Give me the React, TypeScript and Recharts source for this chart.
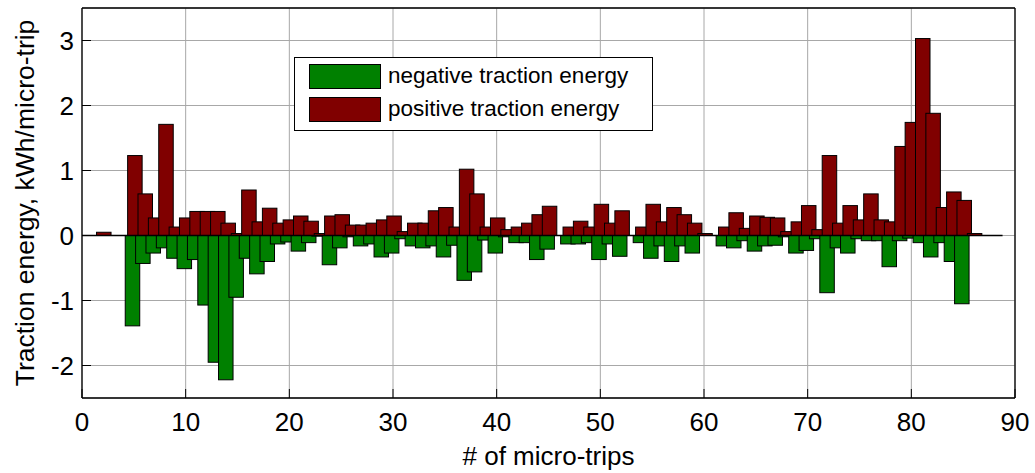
import React from 'react';
import {
  BarChart,
  Bar,
  XAxis,
  YAxis,
  CartesianGrid,
  ReferenceLine,
  Legend,
} from 'recharts';

// micro-trip index
const trips = [
  1, 2, 3, 4, 5, 6, 7, 8, 9, 10, 11, 12, 13, 14, 15, 16, 17, 18, 19, 20,
  21, 22, 23, 24, 25, 26, 27, 28, 29, 30, 31, 32, 33, 34, 35, 36, 37, 38, 39, 40,
  41, 42, 43, 44, 45, 46, 47, 48, 49, 50, 51, 52, 53, 54, 55, 56, 57, 58, 59, 60,
  61, 62, 63, 64, 65, 66, 67, 68, 69, 70, 71, 72, 73, 74, 75, 76, 77, 78, 79, 80,
  81, 82, 83, 84, 85, 86,
];

// kWh per micro-trip
const negativeEnergy = [
  0, 0, 0, 0, -1.39, -0.43, -0.27, -0.19, -0.35, -0.51,
  -0.37, -1.07, -1.95, -2.22, -0.95, -0.35, -0.59, -0.4, -0.13, -0.1,
  -0.24, -0.11, -0.01, -0.45, -0.19, -0.02, -0.16, -0.13, -0.33, -0.27,
  -0.05, -0.16, -0.19, -0.16, -0.33, -0.15, -0.69, -0.56, -0.07, -0.27,
  -0.02, -0.11, -0.11, -0.37, -0.21, 0, -0.13, -0.13, -0.11, -0.37,
  -0.13, -0.32, 0, -0.11, -0.35, -0.16, -0.4, -0.16, -0.27, 0,
  0, -0.16, -0.19, -0.08, -0.24, -0.16, -0.15, -0.02, -0.27, -0.23,
  -0.05, -0.88, -0.19, -0.27, -0.05, -0.08, -0.08, -0.48, -0.08, -0.04,
  -0.11, -0.33, -0.11, -0.4, -1.05, 0,
];

const positiveEnergy = [
  0, 0.05, 0, 0, 1.23, 0.64, 0.27, 1.71, 0.13, 0.27,
  0.37, 0.37, 0.37, 0.19, 0.03, 0.7, 0.21, 0.42, 0.19, 0.24,
  0.3, 0.22, 0.03, 0.3, 0.32, 0.16, 0.16, 0.19, 0.24, 0.3,
  0.06, 0.19, 0.19, 0.38, 0.43, 0.13, 1.02, 0.64, 0.13, 0.27,
  0.09, 0.13, 0.19, 0.32, 0.45, 0, 0.13, 0.22, 0.13, 0.48,
  0.19, 0.38, 0, 0.13, 0.48, 0.21, 0.43, 0.32, 0.19, 0.03,
  0, 0.13, 0.35, 0.11, 0.3, 0.28, 0.27, 0.06, 0.21, 0.46,
  0.09, 1.23, 0.19, 0.46, 0.24, 0.64, 0.24, 0.21, 1.37, 1.74,
  3.03, 1.88, 0.43, 0.67, 0.54, 0.03,
];

const xTicks = [0, 10, 20, 30, 40, 50, 60, 70, 80, 90];
const yTicks = [-2, -1, 0, 1, 2, 3];

const data = trips.map((t, i) => ({
  trip: t,
  neg: negativeEnergy[i],
  pos: positiveEnergy[i],
}));

const FONT = '"Liberation Sans", Arial, sans-serif';
const GREEN = '#008000';
const RED = '#800000';
const BAR_PX = 14.5; // MATLAB bars are wider than one step, so they overlap

// bar drawn around the library's band centre, nudged like the grouped MATLAB bars
const barShape = (dx: number, fill: string) => (props: any) => {
  const { x, y, width, height } = props;
  if (!height || Math.abs(height) < 0.01) return <g />;
  const cx = x + width / 2 + dx;
  const top = Math.min(y, y + height);
  return (
    <rect
      x={cx - BAR_PX / 2}
      y={top}
      width={BAR_PX}
      height={Math.abs(height)}
      fill={fill}
      stroke="#000"
      strokeWidth={1}
    />
  );
};

const LegendBox = (props: any) => {
  const items = props.payload || [];
  return (
    <div
      style={{
        width: 359,
        height: 74,
        boxSizing: 'border-box',
        border: '1.5px solid #000',
        background: '#fff',
        position: 'relative',
        fontFamily: FONT,
        fontSize: 22.5,
        color: '#000',
      }}
    >
      {items.map((it: any, i: number) => (
        <div
          key={it.value}
          style={{
            position: 'absolute',
            left: 14,
            top: 5.5 + i * 33,
            height: 25,
            display: 'flex',
            alignItems: 'center',
            whiteSpace: 'nowrap',
          }}
        >
          <span
            style={{
              display: 'inline-block',
              width: 72,
              height: 25,
              boxSizing: 'border-box',
              background: it.color,
              border: '1px solid #000',
            }}
          />
          <span style={{ marginLeft: 7 }}>{it.value}</span>
        </div>
      ))}
    </div>
  );
};

export default function App() {
  return (
    <div style={{ width: 1035, height: 473, background: '#fff' }}>
      <style>{'body{margin:0}'}</style>
      <BarChart
        width={1035}
        height={473}
        data={data}
        stackOffset="sign"
        margin={{ top: 7, right: 19, left: 0, bottom: 0 }}
      >
        <CartesianGrid stroke="#a8a8a8" strokeWidth={1} />
        <XAxis
          dataKey="trip"
          type="number"
          domain={[0, 90]}
          ticks={xTicks}
          height={75}
          tickSize={-9}
          tickMargin={24}
          tick={{ fontSize: 26, fill: '#000', fontFamily: FONT }}
          stroke="#000"
          axisLine={{ stroke: '#000', strokeWidth: 1.3 }}
          tickLine={{ stroke: '#000' }}
          label={{
            value: '# of micro-trips',
            position: 'insideBottom',
            offset: 8,
            fontSize: 26,
            fill: '#000',
            fontFamily: FONT,
          }}
        />
        <XAxis
          xAxisId="top"
          dataKey="trip"
          type="number"
          orientation="top"
          domain={[0, 90]}
          ticks={xTicks}
          height={1}
          tickSize={-9}
          tick={false}
          axisLine={{ stroke: '#000', strokeWidth: 1.3 }}
          tickLine={{ stroke: '#000' }}
        />
        <YAxis
          domain={[-2.5, 3.5]}
          ticks={yTicks}
          width={82}
          tickSize={-9}
          tickMargin={17}
          tick={{ fontSize: 26, fill: '#000', fontFamily: FONT }}
          axisLine={{ stroke: '#000', strokeWidth: 1.3 }}
          tickLine={{ stroke: '#000' }}
          label={{
            value: 'Traction energy, kWh/micro-trip',
            angle: -90,
            position: 'center',
            dx: -16,
            fontSize: 26.5,
            fill: '#000',
            fontFamily: FONT,
          }}
        />
        <YAxis
          yAxisId="right"
          orientation="right"
          domain={[-2.5, 3.5]}
          ticks={yTicks}
          width={1}
          tickSize={-9}
          tick={false}
          axisLine={{ stroke: '#000', strokeWidth: 1.3 }}
          tickLine={{ stroke: '#000' }}
        />
        <Legend
          layout="horizontal"
          verticalAlign="middle"
          align="center"
          content={<LegendBox />}
          wrapperStyle={{ left: 294, top: 57, width: 359, height: 74 }}
        />
        <Bar
          dataKey="neg"
          name="negative traction energy"
          stackId="e"
          fill={GREEN}
          shape={barShape(-1.2, GREEN)}
          isAnimationActive={false}
        />
        <Bar
          dataKey="pos"
          name="positive traction energy"
          stackId="e"
          fill={RED}
          shape={barShape(1.2, RED)}
          isAnimationActive={false}
        />
        <ReferenceLine
          segment={[
            { x: 0, y: 0 },
            { x: 88.8, y: 0 },
          ]}
          stroke="#000"
          strokeWidth={1.5}
        />
      </BarChart>
    </div>
  );
}
